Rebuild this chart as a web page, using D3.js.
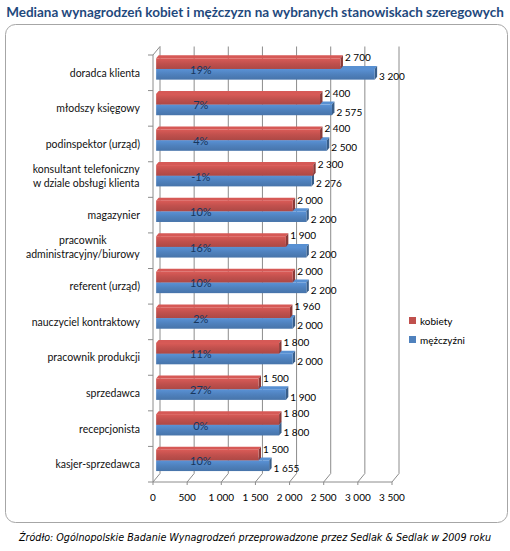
<!DOCTYPE html>
<html>
<head>
  <meta charset="utf-8">
  <title>Mediana wynagrodzeń</title>
  <script src="https://d3js.org/d3.v7.min.js"></script>
  <style>
    body { margin: 0; background: #fff; }
    text { font-family: Lato, "Open Sans", sans-serif; }
  </style>
</head>
<body>
  <div id="chart"></div>
  <script>
    const categories = [
      "doradca klienta",
      "młodszy księgowy",
      "podinspektor (urząd)",
      "konsultant telefoniczny\nw dziale obsługi klienta",
      "magazynier",
      "pracownik\nadministracyjny/biurowy",
      "referent (urząd)",
      "nauczyciel kontraktowy",
      "pracownik produkcji",
      "sprzedawca",
      "recepcjonista",
      "kasjer-sprzedawca"
    ];
    const kobiety = [2700, 2400, 2400, 2300, 2000, 1900, 2000, 1960, 1800, 1500, 1800, 1500];
    const mezczyzni = [3200, 2575, 2500, 2276, 2200, 2200, 2200, 2000, 2000, 1900, 1800, 1655];
    const roznica = ["19%", "7%", "4%", "-1%", "10%", "16%", "10%", "2%", "11%", "27%", "0%", "10%"];
    const xTicks = [0, 500, 1000, 1500, 2000, 2500, 3000, 3500];
    const seriesNames = ["kobiety", "mężczyźni"];

    const W = 510, H = 551;
    const red = "#C0504D", blue = "#4F81BD";
    const gridColor = "#8c8c8c";
    // 3d depth of the plot box and of the bars
    const depth = { x: 7, y: -8.5 };
    const t0 = 0.45, t1 = 0.8;

    const pl = d3.formatLocale({ decimal: ",", thousands: "\u00a0", grouping: [3], currency: ["", ""] });
    const fmt = pl.format(",");

    const x = d3.scaleLinear().domain([0, 3500]).range([153, 392]);
    const y = d3.scaleBand().domain(d3.range(categories.length)).range([55, 482]);
    const inner = d3.scaleBand().domain(seriesNames).range([y.bandwidth() * 0.2, y.bandwidth() * 0.8]);

    const svg = d3.select("#chart").append("svg")
      .attr("width", W).attr("height", H);

    const defs = svg.append("defs");
    function grad(id, c) {
      const g = defs.append("linearGradient").attr("id", id)
        .attr("x1", 0).attr("y1", 0).attr("x2", 0).attr("y2", 1);
      g.append("stop").attr("offset", "0%").attr("stop-color", d3.color(c).brighter(0.35));
      g.append("stop").attr("offset", "50%").attr("stop-color", c);
      g.append("stop").attr("offset", "100%").attr("stop-color", d3.color(c).darker(0.3));
    }
    grad("gk", red);
    grad("gm", blue);

    // title
    svg.append("text")
      .attr("x", W / 2).attr("y", 17)
      .attr("text-anchor", "middle")
      .style("font-size", "13.5px").style("font-weight", "bold")
      .attr("fill", "#1F497D")
      .text("Mediana wynagrodzeń kobiet i mężczyzn na wybranych stanowiskach szeregowych");

    // frame
    svg.append("rect")
      .attr("x", 5.5).attr("y", 24.5).attr("width", 502).attr("height", 498)
      .attr("rx", 10).attr("fill", "#fff").attr("stroke", "#a6a6a6");

    const grid = svg.append("g").attr("stroke", gridColor).attr("fill", "none");
    const y0 = y.range()[0], y1 = y.range()[1];

    // back wall gridlines + floor slants
    xTicks.forEach(v => {
      grid.append("path")
        .attr("d", `M${x(v) + depth.x},${y0 + depth.y} L${x(v) + depth.x},${y1 + depth.y} L${x(v)},${y1} L${x(v)},${y1 + 3}`);
    });
    // floor front edge
    grid.append("line")
      .attr("x1", x(0)).attr("x2", x(3500)).attr("y1", y1).attr("y2", y1);
    // left wall
    grid.append("path")
      .attr("d", `M${x(0) + depth.x},${y0 + depth.y} L${x(0)},${y0} L${x(0)},${y1}`);
    d3.range(categories.length + 1).forEach(i => {
      const yy = y0 + i * y.bandwidth();
      grid.append("line")
        .attr("x1", x(0) - 5).attr("x2", x(0)).attr("y1", yy).attr("y2", yy);
    });

    // x tick labels
    svg.append("g").selectAll("text").data(xTicks).join("text")
      .attr("x", d => x(d)).attr("y", y1 + 19)
      .attr("text-anchor", "middle")
      .style("font-size", "10px").attr("fill", "#000")
      .text(d => fmt(d));

    // category labels
    const cat = svg.append("g");
    categories.forEach((c, i) => {
      const lines = c.split("\n");
      const cy = y(i) + y.bandwidth() / 2;
      const t = cat.append("text")
        .style("font-size", "10.5px").attr("fill", "#111")
        .attr("text-anchor", lines.length > 1 ? "middle" : "end");
      if (lines.length === 1) {
        t.attr("x", 140).attr("y", cy + 4).text(c);
      } else {
        t.attr("y", cy - 2);
        lines.forEach((l, k) => t.append("tspan").attr("x", 0).attr("dy", k ? 14 : 0).text(l));
      }
    });
    // centre multi-line labels inside a block ending at x=140
    cat.selectAll("text").each(function () {
      const t = d3.select(this);
      if (t.attr("text-anchor") === "middle") {
        const w = this.getBBox().width;
        t.selectAll("tspan").attr("x", 140 - w / 2);
        t.attr("y", +t.attr("y") - 5);
      }
    });

    // bars
    const fx = t0 * depth.x, fy = t0 * depth.y;
    const bx = (t1 - t0) * depth.x, by = (t1 - t0) * depth.y;
    const h = inner.bandwidth();
    const series = [
      { name: "mężczyźni", vals: mezczyzni, color: blue, fill: "url(#gm)" },
      { name: "kobiety", vals: kobiety, color: red, fill: "url(#gk)" }
    ];
    const bars = svg.append("g");
    series.forEach(s => {
      s.vals.forEach((v, i) => {
        const xa = x(0) + fx, xb = x(v) + fx;
        const ya = y(i) + inner(s.name) + fy;
        const g = bars.append("g");
        g.append("polygon")
          .attr("points", [[xa, ya], [xb, ya], [xb + bx, ya + by], [xa + bx, ya + by]].join(" "))
          .attr("fill", d3.color(s.color).brighter(0.3));
        g.append("polygon")
          .attr("points", [[xb, ya], [xb + bx, ya + by], [xb + bx, ya + h + by], [xb, ya + h]].join(" "))
          .attr("fill", d3.color(s.color).darker(0.9));
        g.append("rect")
          .attr("x", xa).attr("y", ya).attr("width", xb - xa).attr("height", h)
          .attr("fill", s.fill);
        // value label
        g.append("text")
          .attr("x", xb + bx + 2)
          .attr("y", s.name === "kobiety" ? ya + 3 : ya + h / 2 + 6)
          .style("font-size", "10px").attr("fill", "#000")
          .text(fmt(v));
      });
    });

    // percentage gap labels
    svg.append("g").selectAll("text").data(roznica).join("text")
      .attr("x", x(700)).attr("y", (d, i) => y(i) + y.bandwidth() / 2 + 1)
      .attr("text-anchor", "middle")
      .style("font-size", "11px").attr("fill", "#17365D")
      .text(d => d);

    // legend
    const leg = svg.append("g");
    seriesNames.forEach((n, k) => {
      const ly = 321 + k * 19;
      leg.append("rect").attr("x", 409).attr("y", ly - 4).attr("width", 7).attr("height", 7)
        .attr("fill", k ? blue : red);
      leg.append("text").attr("x", 420).attr("y", ly + 3.5)
        .style("font-size", "10px").attr("fill", "#000").text(n);
    });

    // source note
    svg.append("text")
      .attr("x", W / 2).attr("y", 541)
      .attr("text-anchor", "middle")
      .style("font-family", "'DejaVu Sans', Verdana, sans-serif")
      .style("font-size", "9.6px").style("font-style", "italic")
      .attr("fill", "#000")
      .text("Źródło: Ogólnopolskie Badanie Wynagrodzeń przeprowadzone przez Sedlak & Sedlak w 2009 roku");
  </script>
</body>
</html>
